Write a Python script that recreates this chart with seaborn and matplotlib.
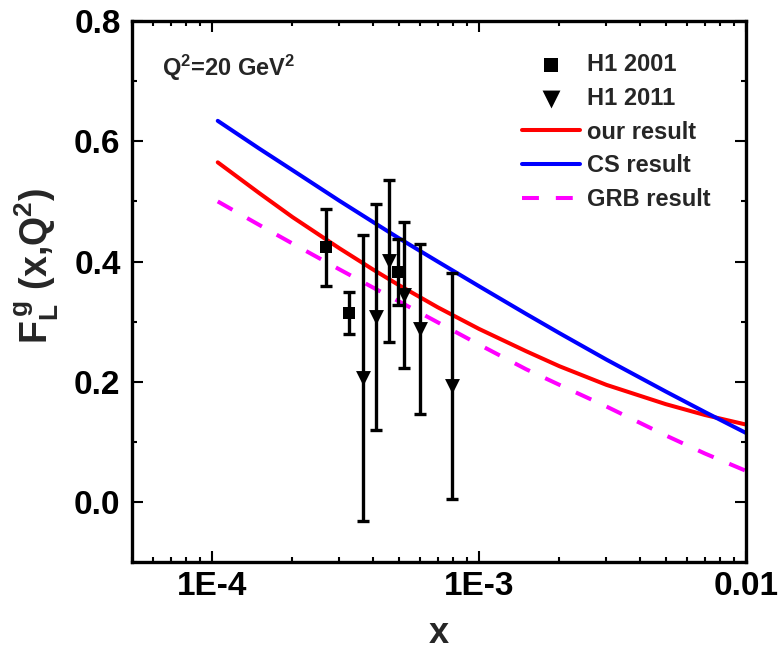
import numpy as np
import pandas as pd
import matplotlib
matplotlib.use('Agg')
import matplotlib.pyplot as plt
import matplotlib.ticker as mticker
import seaborn as sns

# H1 2001 data (squares)
h1_2001_x = [2.66e-4, 3.25e-4, 4.95e-4]
h1_2001_y = [0.424, 0.314, 0.383]
h1_2001_err = [0.064, 0.035, 0.055]

# H1 2011 data (down triangles)
h1_2011_x = [3.69e-4, 4.12e-4, 4.59e-4, 5.23e-4, 6.01e-4, 7.94e-4]
h1_2011_y = [0.207, 0.308, 0.401, 0.344, 0.288, 0.193]
h1_2011_err = [0.238, 0.188, 0.135, 0.121, 0.141, 0.188]

# curves, values
curve_x = [1.05e-4, 1.5e-4, 2e-4, 3e-4, 4e-4, 5e-4, 7e-4, 1e-3,
           1.5e-3, 2e-3, 3e-3, 5e-3, 7e-3, 1e-2]
our_result = [0.565, 0.514, 0.474, 0.422, 0.387, 0.361, 0.324, 0.288,
              0.251, 0.226, 0.195, 0.163, 0.145, 0.129]
cs_result = [0.634, 0.588, 0.552, 0.501, 0.466, 0.439, 0.400, 0.359,
             0.313, 0.281, 0.237, 0.184, 0.150, 0.115]
grb_result = [0.500, 0.461, 0.430, 0.387, 0.357, 0.334, 0.299, 0.262,
              0.221, 0.195, 0.159, 0.111, 0.081, 0.052]

xtick_vals = [1e-4, 1e-3, 1e-2]
xtick_labels = ['1E-4', '1E-3', '0.01']
ytick_vals = [0.0, 0.2, 0.4, 0.6, 0.8]
ytick_labels = ['0.0', '0.2', '0.4', '0.6', '0.8']

sns.set_style('ticks')
plt.rcParams['font.family'] = ['Liberation Sans', 'DejaVu Sans']
plt.rcParams['font.weight'] = 'bold'
plt.rcParams['mathtext.fontset'] = 'custom'
plt.rcParams['mathtext.rm'] = 'Liberation Sans:bold'
plt.rcParams['mathtext.it'] = 'Liberation Sans:bold'
plt.rcParams['mathtext.bf'] = 'Liberation Sans:bold'

curves = pd.DataFrame({'x': curve_x, 'our': our_result, 'cs': cs_result, 'grb': grb_result})

fig = plt.figure(figsize=(7.78, 6.56), dpi=100)
ax = fig.add_axes([0.1693, 0.1428, 0.7897, 0.8252])
ax.set_xscale('log')

ax.errorbar(h1_2001_x, h1_2001_y, yerr=h1_2001_err, fmt='none', ecolor='black',
            elinewidth=2.4, capsize=4.5, capthick=2.4, zorder=3)
ax.errorbar(h1_2011_x, h1_2011_y, yerr=h1_2011_err, fmt='none', ecolor='black',
            elinewidth=2.4, capsize=4.5, capthick=2.4, zorder=3)

sns.scatterplot(x=h1_2001_x, y=h1_2001_y, marker='s', s=72, color='black',
                linewidth=0, label='H1 2001', ax=ax, zorder=4)
sns.scatterplot(x=h1_2011_x, y=h1_2011_y, marker='v', s=115, color='black',
                linewidth=0, label='H1 2011', ax=ax, zorder=4)

sns.lineplot(data=curves, x='x', y='our', color='#ff0000', lw=2.9, label='our result', ax=ax)
sns.lineplot(data=curves, x='x', y='cs', color='#0000ff', lw=2.9, label='CS result', ax=ax)
sns.lineplot(data=curves, x='x', y='grb', color='#ff00ff', lw=2.9,
             linestyle=(0, (4.2, 4.2)), label='GRB result', ax=ax)

ax.set_xlim(5e-5, 1e-2)
ax.set_ylim(-0.1, 0.8)
ax.set_xticks(xtick_vals)
ax.set_xticklabels(xtick_labels)
ax.xaxis.set_minor_locator(mticker.LogLocator(base=10, subs=np.arange(2, 10)))
ax.xaxis.set_minor_formatter(mticker.NullFormatter())
ax.set_yticks(ytick_vals)
ax.set_yticklabels(ytick_labels)
ax.yaxis.set_minor_locator(mticker.MultipleLocator(0.1))

ax.tick_params(which='both', direction='in', top=True, right=True, width=1.5,
               labelsize=24, colors='black')
ax.tick_params(which='major', length=8)
ax.tick_params(which='minor', length=3.8)
ax.tick_params(axis='x', which='major', pad=6)
ax.tick_params(axis='y', which='major', pad=8)
for sp in ax.spines.values():
    sp.set_linewidth(2.4)
    sp.set_color('black')

ax.set_xlabel('x', fontsize=26, fontweight='bold')
ax.set_ylabel(r'F$_\mathrm{L}^\mathrm{\,g}$ (x,Q$^\mathrm{2}$)', fontsize=27, fontweight='bold')
ax.yaxis.set_label_coords(-0.115, 0.547)
ax.xaxis.set_label_coords(0.5, -0.10)

ax.text(0.049, 0.898, r'Q$^\mathrm{2}$=20 GeV$^\mathrm{2}$', transform=ax.transAxes,
        fontsize=17, fontweight='bold', va='baseline', ha='left')

ax.legend(loc='upper left', bbox_to_anchor=(0.635, 0.94), frameon=False,
          fontsize=17, handlelength=2.45, handletextpad=0.3, labelspacing=0.45,
          borderpad=0, borderaxespad=0, markerscale=1.2)

fig.savefig('out.png', dpi=100)
